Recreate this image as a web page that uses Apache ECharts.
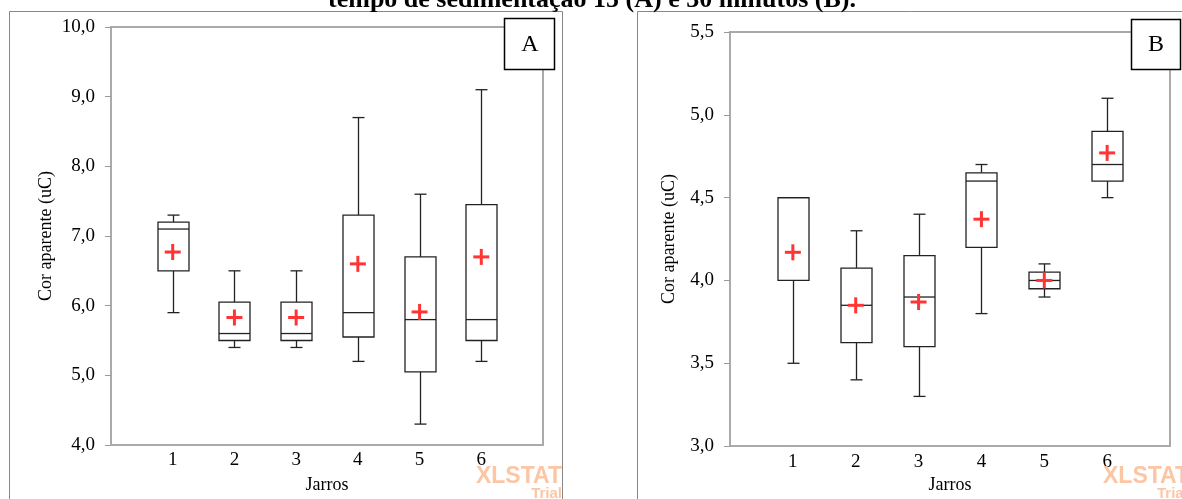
<!DOCTYPE html>
<html>
<head>
<meta charset="utf-8">
<script src="https://cdn.jsdelivr.net/npm/echarts@6/dist/echarts.min.js"></script>
<style>
  html, body { margin: 0; padding: 0; background: #fff; }
  #chart { width: 1182px; height: 499px; }
</style>
</head>
<body>
<div id="chart"></div>
<script>
// jarros
var jarros = [1, 2, 3, 4, 5, 6];

// A - 15 minutos
var aMin = [5.9, 5.4, 5.4, 5.2, 4.3, 5.2];
var aQ1 = [6.5, 5.5, 5.5, 5.55, 5.05, 5.5];
var aMed = [7.1, 5.6, 5.6, 5.9, 5.8, 5.8];
var aQ3 = [7.2, 6.05, 6.05, 7.3, 6.7, 7.45];
var aMax = [7.3, 6.5, 6.5, 8.7, 7.6, 9.1];
var aMedia = [6.77, 5.83, 5.83, 6.6, 5.91, 6.7];

// B - 30 minutos
var bMin = [3.5, 3.4, 3.3, 3.8, 3.9, 4.5];
var bQ1 = [4.0, 3.625, 3.6, 4.2, 3.95, 4.6];
var bMed = [4.5, 3.85, 3.9, 4.6, 4.0, 4.7];
var bQ3 = [4.5, 4.075, 4.15, 4.65, 4.05, 4.9];
var bMax = [4.5, 4.3, 4.4, 4.7, 4.1, 5.1];
var bMedia = [4.17, 3.85, 3.87, 4.37, 4.0, 4.77];

var serif = 'Liberation Serif';

function boxData(mn, q1, md, q3, mx) {
    return jarros.map(function (j, i) {
        return [j, mn[i], q1[i], md[i], q3[i], mx[i]];
    });
}
function meanData(m) {
    return jarros.map(function (j, i) { return [j, m[i]]; });
}

function renderBox(params, api) {
    var x = api.value(0);
    var pMin = api.coord([x, api.value(1)]);
    var pQ1 = api.coord([x, api.value(2)]);
    var pMed = api.coord([x, api.value(3)]);
    var pQ3 = api.coord([x, api.value(4)]);
    var pMax = api.coord([x, api.value(5)]);
    var cx = Math.round(pMin[0]) + 0.5;
    var bw = 31, cw = 12;
    var st = {stroke: '#222', lineWidth: 1.3, fill: null};
    return {
        type: 'group',
        children: [
            {type: 'line', shape: {x1: cx, y1: pMax[1], x2: cx, y2: pQ3[1]}, style: st},
            {type: 'line', shape: {x1: cx, y1: pQ1[1], x2: cx, y2: pMin[1]}, style: st},
            {type: 'line', shape: {x1: cx - cw / 2, y1: pMax[1], x2: cx + cw / 2, y2: pMax[1]}, style: st},
            {type: 'line', shape: {x1: cx - cw / 2, y1: pMin[1], x2: cx + cw / 2, y2: pMin[1]}, style: st},
            {type: 'rect', shape: {x: cx - bw / 2, y: pQ3[1], width: bw, height: pQ1[1] - pQ3[1]},
                style: {stroke: '#222', lineWidth: 1.3, fill: '#fff'}},
            {type: 'line', shape: {x1: cx - bw / 2, y1: pMed[1], x2: cx + bw / 2, y2: pMed[1]}, style: st}
        ]
    };
}

function renderMean(params, api) {
    var p = api.coord([api.value(0), api.value(1)]);
    var h = 8;
    var st = {stroke: '#ff3535', lineWidth: 3};
    return {
        type: 'group',
        children: [
            {type: 'line', shape: {x1: p[0] - h, y1: p[1], x2: p[0] + h, y2: p[1]}, style: st},
            {type: 'line', shape: {x1: p[0], y1: p[1] - h, x2: p[0], y2: p[1] + h}, style: st}
        ]
    };
}

function xAxisDef(idx, gap) {
    return {
        type: 'value', gridIndex: idx, min: 0, max: 7, interval: 1,
        name: 'Jarros', nameLocation: 'middle', nameGap: gap,
        nameTextStyle: {fontFamily: serif, fontSize: 18, color: '#000'},
        axisLine: {show: true, lineStyle: {color: '#aaa', width: 2}},
        axisTick: {show: false},
        splitLine: {show: false},
        axisLabel: {
            margin: 6, fontFamily: serif, fontSize: 19, color: '#000',
            formatter: function (v) { return (v >= 1 && v <= 6) ? String(v) : ''; }
        }
    };
}

function yAxisDef(idx, mn, mx, step, gap) {
    return {
        type: 'value', gridIndex: idx, min: mn, max: mx, interval: step,
        name: 'Cor aparente (uC)', nameLocation: 'middle', nameGap: gap,
        nameTextStyle: {fontFamily: serif, fontSize: 18, color: '#000'},
        axisLine: {show: true, lineStyle: {color: '#aaa', width: 2}},
        axisTick: {show: true, length: 6, lineStyle: {color: '#999', width: 1}},
        splitLine: {show: false},
        axisLabel: {
            margin: 16, fontFamily: serif, fontSize: 19, color: '#000',
            formatter: function (v) { return v.toFixed(1).replace('.', ','); }
        }
    };
}

var chart = echarts.init(document.getElementById('chart'));
var option = {
    backgroundColor: '#fff',
    animation: false,
    grid: [
        {left: 111, top: 27, width: 432, height: 421, show: true, borderColor: '#aaa', borderWidth: 2},
        {left: 730, top: 32, width: 440, height: 422, show: true, borderColor: '#aaa', borderWidth: 2}
    ],
    xAxis: [xAxisDef(0, 31), xAxisDef(1, 29)],
    yAxis: [yAxisDef(0, 4, 10, 1, 56), yAxisDef(1, 3, 5.5, 0.5, 52)],
    graphic: [
        {type: 'rect', shape: {x: 9.5, y: 11.5, width: 553, height: 520}, style: {fill: null, stroke: '#888', lineWidth: 1}, z: 0},
        {type: 'rect', shape: {x: 637.5, y: 11.5, width: 560, height: 520}, style: {fill: null, stroke: '#888', lineWidth: 1}, z: 0},
        {type: 'text', x: 592, y: 13, z: 10,
            style: {text: 'tempo de sedimentação 15 (A) e 30 minutos (B).', fontFamily: serif, fontWeight: 'bold',
                fontSize: 26, fill: '#000', textAlign: 'center', textVerticalAlign: 'bottom'}},
        {type: 'rect', shape: {x: 504.5, y: 18.5, width: 50, height: 51}, style: {fill: '#fff', stroke: '#000', lineWidth: 1.5}, z: 10},
        {type: 'text', x: 530, y: 45, z: 11,
            style: {text: 'A', fontFamily: serif, fontSize: 24, fill: '#000', textAlign: 'center', textVerticalAlign: 'middle'}},
        {type: 'rect', shape: {x: 1131.5, y: 19.5, width: 49, height: 50}, style: {fill: '#fff', stroke: '#000', lineWidth: 1.5}, z: 10},
        {type: 'text', x: 1156, y: 45, z: 11,
            style: {text: 'B', fontFamily: serif, fontSize: 24, fill: '#000', textAlign: 'center', textVerticalAlign: 'middle'}},
        {type: 'text', x: 562, y: 465, z: 1,
            style: {text: 'XLSTAT', fontFamily: 'Liberation Sans', fontWeight: 'bold', fontSize: 23, fill: '#fcc6a4', textAlign: 'right'}},
        {type: 'text', x: 562, y: 486, z: 1,
            style: {text: 'Trial', fontFamily: 'Liberation Sans', fontWeight: 'bold', fontSize: 15, fill: '#fcc6a4', textAlign: 'right'}},
        {type: 'text', x: 1103, y: 465, z: 1,
            style: {text: 'XLSTAT', fontFamily: 'Liberation Sans', fontWeight: 'bold', fontSize: 23, fill: '#fcc6a4', textAlign: 'left'}},
        {type: 'text', x: 1157, y: 486, z: 1,
            style: {text: 'Trial', fontFamily: 'Liberation Sans', fontWeight: 'bold', fontSize: 15, fill: '#fcc6a4', textAlign: 'left'}}
    ],
    series: [
        {type: 'custom', xAxisIndex: 0, yAxisIndex: 0, renderItem: renderBox, data: boxData(aMin, aQ1, aMed, aQ3, aMax), z: 3},
        {type: 'custom', xAxisIndex: 0, yAxisIndex: 0, renderItem: renderMean, data: meanData(aMedia), z: 4},
        {type: 'custom', xAxisIndex: 1, yAxisIndex: 1, renderItem: renderBox, data: boxData(bMin, bQ1, bMed, bQ3, bMax), z: 3},
        {type: 'custom', xAxisIndex: 1, yAxisIndex: 1, renderItem: renderMean, data: meanData(bMedia), z: 4}
    ]
};
chart.setOption(option);
</script>
</body>
</html>
